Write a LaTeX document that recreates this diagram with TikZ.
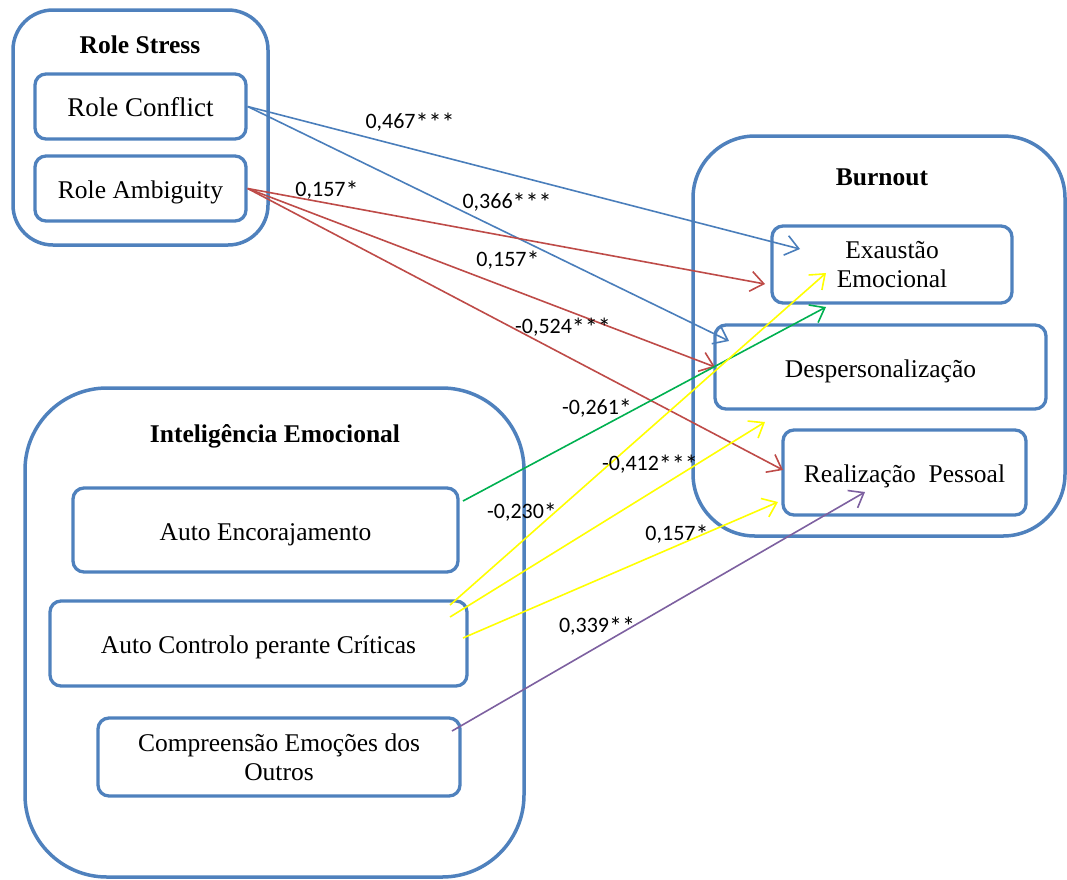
\documentclass[tikz,border=0pt]{standalone}
\usepackage{fontspec}
\setmainfont{Liberation Serif}
\newfontfamily\lblfont{Carlito}
\usetikzlibrary{arrows.meta}
\definecolor{boxblue}{HTML}{4F81BD}
\definecolor{arrblue}{HTML}{4A7EBB}
\definecolor{arrred}{HTML}{BE4B48}
\definecolor{arrgreen}{HTML}{00B050}
\definecolor{arryellow}{HTML}{FFFF00}
\definecolor{arrpurple}{HTML}{7D60A0}
\newcommand\myst{\raisebox{-2.5pt}{\fontsize{26}{26}\selectfont *}}
\tikzset{
  outerbox/.style={draw=boxblue, line width=3.5pt, rounded corners=#1, inner sep=0pt},
  innerbox/.style={draw=boxblue, line width=3.3pt, rounded corners=11pt, inner sep=0pt, align=center,
    font=\fontsize{25.5}{29}\selectfont},
  oneline/.style={text height=24pt, text depth=4pt},
  titletext/.style={font=\fontsize{25.5}{29}\selectfont\bfseries},
  conn/.style={line width=1.6pt, -{Straight Barb[length=13pt,width=20pt,line width=1.6pt]}},
  lbl/.style={font=\lblfont\fontsize{22}{26}\selectfont, inner sep=0pt}
}
\begin{document}
\begin{tikzpicture}[x=1pt,y=-1pt]
\useasboundingbox (0,0) rectangle (1067,879);
% outer groups
\node[outerbox=40pt, minimum width=255pt, minimum height=235pt] (rs) at (140.5,127.5) {};
\node[outerbox=62pt, minimum width=372pt, minimum height=400pt] (bo) at (879,336) {};
\node[outerbox=82pt, minimum width=499pt, minimum height=489pt] (ie) at (274.5,632.5) {};
% titles
\node[titletext, oneline] (rst) at (140,43) {Role Stress};
\node[titletext, oneline] (bot) at (882,175) {Burnout};
\node[titletext, oneline] (iet) at (275,432) {Inteligência Emocional};
% inner boxes
\node[innerbox, oneline, minimum width=211pt, minimum height=65pt, font=\fontsize{27}{30}\selectfont] (rc) at (140.5,106.5) {Role Conflict};
\node[innerbox, oneline, minimum width=211pt, minimum height=65pt] (ra) at (140.5,188.5) {Role Ambiguity};
\node[innerbox, minimum width=240pt, minimum height=77pt] (ee) at (892,264.5) {Exaustão\\Emocional};
\node[innerbox, oneline, minimum width=331pt, minimum height=84pt] (dp) at (880.5,367) {Despersonalização};
\node[innerbox, oneline, minimum width=243pt, minimum height=85pt] (rp) at (904.5,472.5) {Realização\ \ Pessoal};
\node[innerbox, oneline, minimum width=385pt, minimum height=84pt] (ae) at (265.5,530) {Auto Encorajamento};
\node[innerbox, oneline, minimum width=417pt, minimum height=85pt] (ac) at (258.5,643.5) {Auto Controlo perante Críticas};
\node[innerbox, minimum width=362pt, minimum height=78pt] (ce) at (279,757) {Compreensão Emoções dos\\Outros};
% connector end points
\coordinate (t1) at (800,249);
\coordinate (t2) at (729,341);
\coordinate (t3) at (765,284);
\coordinate (t4) at (715,367);
\coordinate (t5) at (783,470);
\coordinate (s6) at (463,501);
\coordinate (t6) at (826,307);
\coordinate (s7) at (450,605);
\coordinate (t7) at (826,273);
\coordinate (s8) at (450,617);
\coordinate (t8) at (765,422);
\coordinate (s9) at (463,638);
\coordinate (t9) at (778,502);
\coordinate (s10) at (452,731);
\coordinate (t10) at (865,492);
% connectors
\draw[conn, arrblue] (rc.east) -- (t1);
\draw[conn, arrblue] (rc.east) -- (t2);
\draw[conn, arrred] (ra.east) -- (t3);
\draw[conn, arrred] (ra.east) -- (t4);
\draw[conn, arrred] (ra.east) -- (t5);
\draw[conn, arrgreen] (s6) -- (t6);
\draw[conn, arryellow] (s7) -- (t7);
\draw[conn, arryellow] (s8) -- (t8);
\draw[conn, arryellow] (s9) -- (t9);
\draw[conn, arrpurple] (s10) -- (t10);
% labels
\node[lbl] (l1) at (410,122) {0,467\myst\myst\myst};
\node[lbl] (l2) at (507,202) {0,366\myst\myst\myst};
\node[lbl] (l3) at (327,190) {0,157\myst};
\node[lbl] (l4) at (508,260) {0,157\myst};
\node[lbl] (l5) at (563,327) {-0,524\myst\myst\myst};
\node[lbl] (l6) at (597,408) {-0,261\myst};
\node[lbl] (l7) at (522,512) {-0,230\myst};
\node[lbl] (l8) at (650,464) {-0,412\myst\myst\myst};
\node[lbl] (l9) at (677,534) {0,157\myst};
\node[lbl] (l10) at (597,626) {0,339\myst\myst};
\end{tikzpicture}
\end{document}
